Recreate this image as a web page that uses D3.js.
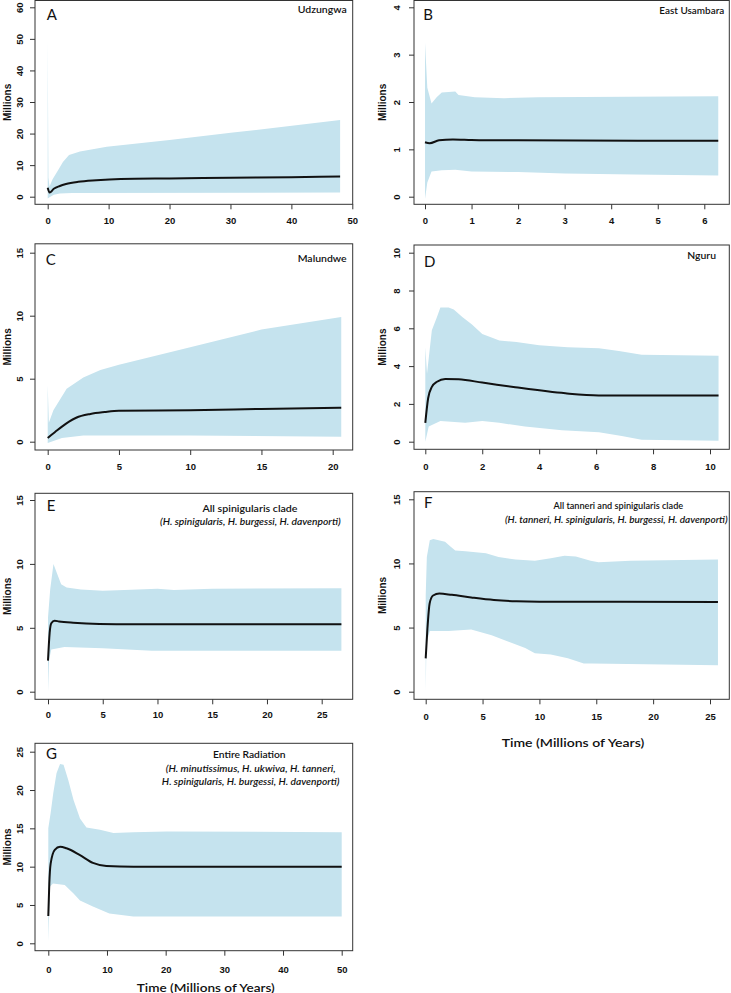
<!DOCTYPE html>
<html><head><meta charset="utf-8">
<script src="https://cdn.jsdelivr.net/npm/d3@7"></script>
<style>body{margin:0;background:#fff}svg{display:block}</style>
</head><body>
<script>
// ---------- DATA (time in Myr, population size in millions) ----------
const upperA = [[0,50],[0.12,6],[0.3,3.2],[0.8,5.5],[1.7,8.4],[2.5,11],[3.5,13.2],[5.3,14.3],[9.7,15.8],[20,18],[30.4,20.3],[48,24.3]];
const lowerA = [[0,-0.6],[0.3,-0.2],[1,0.6],[2,1.0],[4,1.2],[48,1.3]];
const medianA = [[0,2.8],[0.3,1.3],[1,2.5],[2,3.4],[3,4.0],[5,4.7],[8,5.2],[12,5.6],[20,5.8],[30,6.0],[40,6.2],[48,6.4]];

const upperB = [[0,3.25],[0.05,2.3],[0.14,1.97],[0.25,2.1],[0.36,2.2],[0.65,2.22],[0.72,2.15],[1.07,2.1],[1.7,2.08],[2.43,2.1],[6.3,2.12]];
const lowerB = [[0,-0.05],[0.05,0.3],[0.14,0.53],[0.36,0.56],[0.65,0.57],[1,0.53],[2,0.52],[3,0.49],[4.5,0.47],[6.3,0.45]];
const medianB = [[0,1.15],[0.1,1.13],[0.3,1.19],[0.6,1.21],[1,1.2],[2,1.19],[6.3,1.18]];

const upperC = [[0,4.5],[0.08,1.5],[0.4,2.5],[1.33,4.2],[2.5,5.1],[3.7,5.7],[5,6.1],[10,7.5],[15,8.9],[20.6,9.9]];
const lowerC = [[0,-0.1],[0.5,0.1],[1,0.3],[2.5,0.5],[10,0.5],[20.6,0.4]];
const medianC = [[0,0.3],[0.5,0.75],[1,1.2],[1.5,1.6],[2,1.9],[3,2.2],[4,2.35],[5,2.45],[10,2.5],[15,2.6],[20.6,2.7]];

const upperD = [[0,5.0],[0.06,3.6],[0.23,5.9],[0.41,6.6],[0.53,7.1],[0.82,7.1],[1.0,7.0],[1.3,6.6],[1.64,6.2],[2.0,5.7],[2.35,5.5],[2.6,5.35],[3.2,5.28],[4,5.1],[5,5.0],[6.1,4.95],[6.8,4.8],[7.6,4.6],[10.3,4.55]];
const lowerD = [[0,0],[0.12,0.8],[0.53,1.1],[1.4,1.0],[2,1.1],[2.6,1.0],[3.5,0.8],[4.8,0.6],[6.1,0.5],[6.9,0.3],[7.6,0.1],[10.3,0.05]];
const medianD = [[0,1.0],[0.1,2.3],[0.23,2.9],[0.41,3.17],[0.7,3.32],[1.17,3.3],[2,3.13],[3.16,2.88],[4.92,2.56],[6.09,2.45],[10.3,2.44]];

const upperE = [[0,5.8],[0.2,8],[0.5,10],[0.8,9.3],[1.2,8.4],[1.7,8.15],[3,8.0],[5,7.9],[7,7.95],[10,8.05],[11.5,7.95],[15,8.05],[26.8,8.1]];
const lowerE = [[0,0],[0.1,2.5],[0.3,3.3],[1.5,3.5],[5,3.4],[9.5,3.2],[26.8,3.2]];
const medianE = [[0,2.43],[0.15,4.6],[0.3,5.35],[0.6,5.55],[1,5.5],[2.3,5.4],[4.7,5.3],[7.8,5.27],[26.8,5.27]];

const upperF = [[0,7.5],[0.1,10.5],[0.36,11.8],[0.67,11.9],[1.7,11.7],[2.2,11.3],[2.6,11.0],[3.5,10.95],[5.3,10.8],[6.4,10.5],[7.9,10.3],[9.6,10.2],[11,10.4],[12.2,10.6],[13.2,10.55],[14.5,10.2],[15.2,10.1],[18,10.2],[25.7,10.3]];
const lowerF = [[0,0],[0.07,3.8],[0.36,4.73],[2,4.73],[4,4.85],[5.8,4.4],[7,4.0],[8.75,3.4],[9.6,3.0],[11,2.9],[12.5,2.6],[13.9,2.2],[14.6,2.2],[25.7,2.07]];
const medianF = [[0,2.6],[0.15,4.9],[0.35,6.9],[0.65,7.5],[1.2,7.65],[2.3,7.55],[4,7.35],[6,7.15],[8,7.05],[10,7.02],[25.7,7.0]];

const upperG = [[0,15],[0.4,17],[0.85,19.6],[1.4,22.2],[2.0,23.4],[2.6,23.3],[3.4,21.3],[4.3,18.7],[5.4,16.3],[6.5,15.1],[8.8,14.8],[11.1,14.4],[14.5,14.5],[20.2,14.6],[50,14.5]];
const lowerG = [[0,0.2],[0.15,4],[0.3,7.4],[0.8,7.8],[2.8,7.6],[4.3,6.5],[5.4,5.6],[7.6,4.8],[10.4,3.9],[14.5,3.5],[50,3.5]];
const medianG = [[0,3.56],[0.17,7.8],[0.4,10.4],[1.1,12.2],[2.0,12.6],[3.1,12.4],[5.4,11.5],[7.6,10.5],[9.9,10.1],[14.5,10.0],[50,10.0]];

// tick labels
const xTicksA = [0,10,20,30,40,50], yTicksA = [0,10,20,30,40,50,60];
const xTicksB = [0,1,2,3,4,5,6],    yTicksB = [0,1,2,3,4];
const xTicksC = [0,5,10,15,20],     yTicksC = [0,5,10,15];
const xTicksD = [0,2,4,6,8,10],     yTicksD = [0,2,4,6,8,10];
const xTicksE = [0,5,10,15,20,25],  yTicksE = [0,5,10,15];
const xTicksF = [0,5,10,15,20,25],  yTicksF = [0,5,10,15];
const xTicksG = [0,10,20,30,40,50], yTicksG = [0,5,10,15,20,25];

// panel texts
const panelLetters = ["A","B","C","D","E","F","G"];
const titlesA = ["Udzungwa"];
const titlesB = ["East Usambara"];
const titlesC = ["Malundwe"];
const titlesD = ["Nguru"];
const titlesE = ["All spinigularis clade", "(H. spinigularis, H. burgessi, H. davenporti)"];
const titlesF = ["All tanneri and spinigularis clade", "(H. tanneri, H. spinigularis, H. burgessi, H. davenporti)"];
const titlesG = ["Entire Radiation", "(H. minutissimus, H. ukwiva, H. tanneri,", "H. spinigularis, H. burgessi, H. davenporti)"];
const yAxisTitle = "Millions";
const xAxisTitle = "Time (Millions of Years)";

// ---------- LAYOUT ----------
const W = 731, H = 993;
const bandColor = "#c5e3ee";
const L = {x0:35, x1:352.7}, R = {x0:414, x1:729.3};
const panels = [
  {upper:upperA, lower:lowerA, median:medianA, xt:xTicksA, yt:yTicksA, titles:titlesA, col:L, y0:0.5, y1:204.3,
   xCal:[0,47.7,50,352.3], yCal:[0,196.7,60,7.3], xlab:221, letter:[46.7,20],
   tpos:[{x:346.7,y:13.3,w:49,anchor:"end"}]},
  {upper:upperB, lower:lowerB, median:medianB, xt:xTicksB, yt:yTicksB, titles:titlesB, col:R, y0:0.5, y1:204.3,
   xCal:[0,425,6,704.3], yCal:[0,196.7,4,7.3], xlab:221, letter:[423.3,20],
   tpos:[{x:724.3,y:13.8,w:65,anchor:"end"}]},
  {upper:upperC, lower:lowerC, median:medianC, xt:xTicksC, yt:yTicksC, titles:titlesC, col:L, y0:243.8, y1:450,
   xCal:[0,47.7,20,332.7], yCal:[0,441.7,15,252.7], xlab:466.7, letter:[45.7,265],
   tpos:[{x:346.7,y:261.7,w:49,anchor:"end"}]},
  {upper:upperD, lower:lowerD, median:medianD, xt:xTicksD, yt:yTicksD, titles:titlesD, col:R, y0:245, y1:449.3,
   xCal:[0,425.3,10,710], yCal:[0,441.7,10,252.7], xlab:466.7, letter:[424,266.7],
   tpos:[{x:716,y:259.3,w:28.7,anchor:"end"}]},
  {upper:upperE, lower:lowerE, median:medianE, xt:xTicksE, yt:yTicksE, titles:titlesE, col:L, y0:493.3, y1:699.3,
   xCal:[0,48,25,321.7], yCal:[0,691.7,15,500], xlab:715, letter:[46.7,510.7],
   tpos:[{x:250,y:511.7,w:95},{x:250.3,y:525,w:180.7,italic:true}]},
  {upper:upperF, lower:lowerF, median:medianF, xt:xTicksF, yt:yTicksF, titles:titlesF, col:R, y0:491.7, y1:699.3,
   xCal:[0,425.7,25,710], yCal:[0,691.7,15,499.3], xlab:716.7, letter:[424,508.3],
   tpos:[{x:618.3,y:509.3,w:129.7},{x:616.3,y:523.3,w:222.7,italic:true}],
   xtitle:{x:573,y:746.5,w:142.7}},
  {upper:upperG, lower:lowerG, median:medianG, xt:xTicksG, yt:yTicksG, titles:titlesG, col:L, y0:743.3, y1:950.7,
   xCal:[0,48.3,50,341.7], yCal:[0,943.3,25,751.7], xlab:970, letter:[46,759],
   tpos:[{x:249.3,y:758.3,w:72.7},{x:250.7,y:771.7,w:170,italic:true},{x:250.7,y:785,w:177.7,italic:true}],
   xtitle:{x:205.8,y:991.5,w:138}}
];

const svg = d3.select("body").append("svg").attr("width", W).attr("height", H)
  .style("font-family", "'Liberation Sans', Arial, sans-serif");
const fmt = d3.format("d");

panels.forEach((p, i) => {
  const x = d3.scaleLinear().domain([p.xCal[0], p.xCal[2]]).range([p.xCal[1], p.xCal[3]]);
  const y = d3.scaleLinear().domain([p.yCal[0], p.yCal[2]]).range([p.yCal[1], p.yCal[3]]);
  const g = svg.append("g");
  const line = d3.line().x(d => x(d[0])).y(d => y(d[1]));

  // uncertainty band
  const band = p.upper.concat(p.lower.slice().reverse());
  g.append("path").attr("d", line(band) + "Z").attr("fill", bandColor).attr("stroke", "none");

  // median line
  g.append("path").attr("d", line.curve(d3.curveMonotoneX)(p.median))
    .attr("fill", "none").attr("stroke", "#111").attr("stroke-width", 2).attr("stroke-linejoin", "round");

  // box
  g.append("rect").attr("x", p.col.x0).attr("y", p.y0)
    .attr("width", p.col.x1 - p.col.x0).attr("height", p.y1 - p.y0)
    .attr("fill", "none").attr("stroke", "#333").attr("stroke-width", 1);

  // x axis
  const capH = 6.8;
  const xa = g.append("g").attr("transform", `translate(0,${p.y1})`)
    .call(d3.axisBottom(x).tickValues(p.xt).tickFormat(fmt).tickSize(5).tickSizeOuter(0)
      .tickPadding(p.xlab - p.y1 - 5 - capH / 2));
  xa.select(".domain").remove();
  xa.selectAll("line").attr("stroke", "#333");
  xa.selectAll("text").attr("font-size", 9.5).attr("font-weight", "bold").attr("fill", "#111")
    .attr("font-family", "'Liberation Sans', Arial, sans-serif");

  // y axis (labels rotated as in R)
  const isLeft = p.col === L;
  const labCenter = isLeft ? 20 : 396.9;
  const ya = g.append("g").attr("transform", `translate(${p.col.x0},0)`)
    .call(d3.axisLeft(y).tickValues(p.yt).tickFormat(fmt).tickSize(5).tickSizeOuter(0));
  ya.select(".domain").remove();
  ya.selectAll("line").attr("stroke", "#333");
  ya.selectAll("text")
    .attr("x", null).attr("dy", null).attr("y", null)
    .attr("text-anchor", "middle")
    .attr("transform", `translate(${labCenter + capH / 2 - p.col.x0},0) rotate(-90)`)
    .attr("font-size", 9.5).attr("font-weight", "bold").attr("fill", "#111")
    .attr("font-family", "'Liberation Sans', Arial, sans-serif");

  // y axis title
  const ytx = isLeft ? 7.5 : 382.8;
  g.append("text").attr("transform", `translate(${ytx + 3.5},${(p.y0 + p.y1) / 2}) rotate(-90)`)
    .attr("text-anchor", "middle").attr("font-size", 10).attr("font-weight", "bold").attr("fill", "#111")
    .text(yAxisTitle);

  // panel letter
  g.append("text").attr("x", p.letter[0]).attr("y", p.letter[1])
    .attr("font-family", "Lato, 'Open Sans', sans-serif").attr("font-size", 15).attr("fill", "#111")
    .text(panelLetters[i]);

  // titles
  p.titles.forEach((t, k) => {
    const tp = p.tpos[k];
    g.append("text").attr("x", tp.x).attr("y", tp.y)
      .attr("text-anchor", tp.anchor || "middle")
      .attr("font-family", "Lato, 'Open Sans', sans-serif")
      .attr("font-size", 9.3).attr("font-weight", 600)
      .attr("font-style", tp.italic ? "italic" : "normal")
      .attr("fill", "#111")
      .attr("textLength", tp.w).attr("lengthAdjust", "spacingAndGlyphs")
      .text(t);
  });

  // x axis title
  if (p.xtitle) {
    g.append("text").attr("x", p.xtitle.x).attr("y", p.xtitle.y).attr("text-anchor", "middle")
      .attr("font-family", "Lato, 'Open Sans', sans-serif").attr("font-size", 11).attr("font-weight", 600)
      .attr("fill", "#111").attr("textLength", p.xtitle.w).attr("lengthAdjust", "spacingAndGlyphs")
      .text(xAxisTitle);
  }
});
</script>
</body></html>
